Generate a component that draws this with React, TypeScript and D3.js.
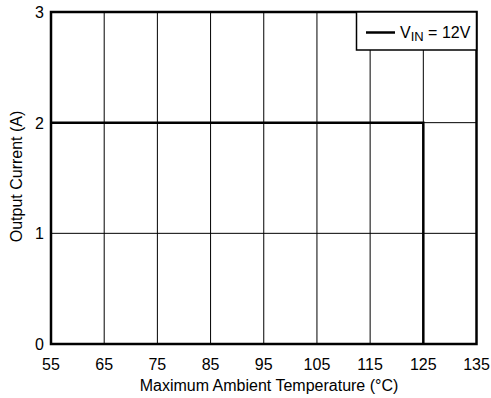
import React from "react";
import * as d3 from "d3";

const xTicks = [55, 65, 75, 85, 95, 105, 115, 125, 135];
const yTicks = [0, 1, 2, 3];
const tempValues = [55, 125, 125];
const currentValues = [2, 2, 0];
const legendLabel = "12V";

export default function App() {
  const W = 491, H = 398;
  const left = 51, right = 476.5, top = 12, bottom = 344;
  const x = d3.scaleLinear().domain([55, 135]).range([left, right]);
  const y = d3.scaleLinear().domain([0, 3]).range([bottom, top]);
  const pts: [number, number][] = tempValues.map((t, i) => [t, currentValues[i]]);
  const line = d3.line<[number, number]>().x(d => x(d[0])).y(d => y(d[1]));
  const font = "Liberation Sans, Arial, sans-serif";
  return (
    <svg width={W} height={H} style={{ position: "absolute", left: 0, top: 0, background: "#fff" }}>
      <rect x={0} y={0} width={W} height={H} fill="#fff" />
      {xTicks.slice(1, -1).map(t => (
        <line key={"gx" + t} x1={x(t)} x2={x(t)} y1={top} y2={bottom} stroke="#000" strokeWidth={1} />
      ))}
      {yTicks.slice(1, -1).map(t => (
        <line key={"gy" + t} x1={left} x2={right} y1={y(t)} y2={y(t)} stroke="#000" strokeWidth={1} />
      ))}
      <path d={line(pts) || ""} fill="none" stroke="#000" strokeWidth={2.5} />
      <rect x={left} y={top} width={right - left} height={bottom - top} fill="none" stroke="#000" strokeWidth={2.5} />
      {/* legend */}
      <rect x={356.5} y={top} width={right - 356.5} height={38} fill="#fff" stroke="#000" strokeWidth={1.5} />
      <line x1={366} x2={395} y1={32.5} y2={32.5} stroke="#000" strokeWidth={2.5} />
      <text x={400} y={38} fontFamily={font} fontSize={16} fill="#000">
        V<tspan fontSize={13} dy={3}>IN</tspan><tspan dy={-3}>{" = " + legendLabel}</tspan>
      </text>
      {yTicks.map(t => (
        <text key={"yl" + t} x={44} y={y(t) + 6} textAnchor="end" fontFamily={font} fontSize={16} fill="#000">{t}</text>
      ))}
      {xTicks.map(t => (
        <text key={"xl" + t} x={x(t)} y={370} textAnchor="middle" fontFamily={font} fontSize={16} fill="#000">{t}</text>
      ))}
      <text x={269} y={391} textAnchor="middle" fontFamily={font} fontSize={16} fill="#000">Maximum Ambient Temperature (°C)</text>
      <text transform={`translate(22,176.5) rotate(-90)`} textAnchor="middle" fontFamily={font} fontSize={16} fill="#000">Output Current (A)</text>
    </svg>
  );
}
